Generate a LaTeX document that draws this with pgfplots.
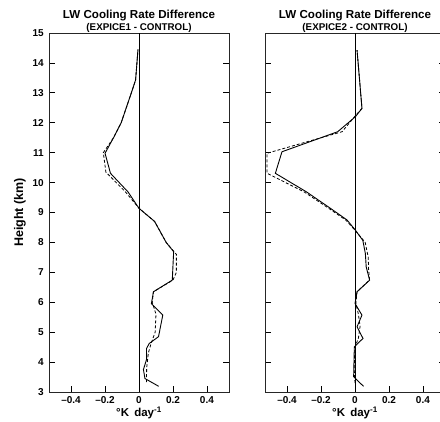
\documentclass[border=0pt]{standalone}
\usepackage{pgfplots}
\pgfplotsset{compat=1.18}
\usepackage{fontspec}
\setmainfont{Liberation Sans}
\pgfplotstableread{
x y
0.116 3.19
0.035 3.45
0.026 3.75
0.045 4.10
0.044 4.45
0.060 4.62
0.115 4.85
0.140 5.57
0.073 5.95
0.085 6.35
0.196 6.74
0.204 7.69
0.160 8.00
0.092 8.70
0.000 9.14
-0.065 9.69
-0.168 10.31
-0.200 10.98
-0.150 11.50
-0.105 12.00
-0.075 12.50
-0.045 13.00
-0.020 13.43
-0.006 14.45
}\leftsolid
\pgfplotstableread{
x y
0.044 3.33
0.045 3.80
0.055 4.30
0.070 4.60
0.095 5.00
0.100 5.60
0.078 6.00
0.085 6.35
0.200 6.74
0.220 7.00
0.220 7.60
0.160 8.00
0.092 8.70
0.000 9.14
-0.080 9.69
-0.195 10.35
-0.210 11.00
-0.150 11.50
-0.105 12.00
-0.075 12.50
-0.045 13.00
-0.020 13.43
-0.006 14.45
}\leftdashed
\pgfplotstableread{
x y
0.050 3.19
-0.008 3.51
-0.004 4.51
0.047 4.79
0.012 5.18
0.041 5.57
0.000 5.96
0.012 6.35
0.086 6.74
0.066 7.18
0.061 7.63
0.046 8.07
0.002 8.41
-0.047 8.75
-0.145 9.14
-0.286 9.69
-0.469 10.31
-0.430 11.03
-0.102 11.70
0.002 12.20
0.041 12.48
0.012 14.43
}\rightsolid
\pgfplotstableread{
x y
0.000 3.30
-0.005 3.80
0.000 4.50
0.020 4.80
0.030 5.20
0.020 5.60
0.005 5.96
0.012 6.35
0.086 6.74
0.080 7.10
0.078 7.50
0.060 8.00
0.000 8.41
-0.055 8.75
-0.155 9.14
-0.300 9.69
-0.518 10.31
-0.518 10.98
-0.076 11.70
0.000 12.22
0.041 12.48
0.012 14.43
}\rightdashed
\begin{document}
\begin{tikzpicture}[x=1pt,y=1pt]
\pgfplotsset{
  panel/.style={
    anchor=south west, scale only axis, width=180pt, height=359pt,
    xmin=-0.53, xmax=0.53, ymin=3, ymax=15,
    xtick={-0.4,-0.2,0,0.2,0.4}, xticklabels={–0.4,–0.2,0,0.2,0.4},
    ytick={3,4,...,15},
    xtick pos=left, ytick pos=both,
    tick align=inside, major tick length=6pt,
    tick style={black, line width=0.7pt},
    axis line style={black!85, line width=0.8pt},
    /pgf/number format/assume math mode=true,
    ticklabel style={font=\fontsize{10}{11}\selectfont\bfseries, inner sep=0pt},
    xticklabel style={yshift=-4.7pt},
    yticklabel style={xshift=-5pt},
    clip=false,
  },
  zero/.style={black, line width=0.6pt},
  sol/.style={black, line width=0.9pt},
  dsh/.style={black, line width=0.8pt, dash pattern=on 3pt off 2pt},
}
\newcommand{\ttl}[1]{%
  \node[anchor=base, inner sep=0pt, font=\fontsize{11.6}{12}\selectfont\bfseries] at ([yshift=14pt]rel axis cs:0.5,1) {LW Cooling Rate Difference};
  \node[anchor=base, inner sep=0pt, font=\fontsize{9.8}{10}\selectfont\bfseries] at ([yshift=2.5pt]rel axis cs:0.5,1) {(#1 - CONTROL)};
  \node[anchor=base, inner sep=0pt, font=\fontsize{11.5}{12}\selectfont\bfseries] at ([yshift=-25pt]rel axis cs:0.5,0) {°K\hspace{0.45em}day\textsuperscript{-1}};
}
\begin{axis}[panel, at={(49pt,30pt)}]
  \addplot[zero] coordinates {(0,3) (0,15)};
  \addplot[dsh] table {\leftdashed};
  \addplot[sol] table {\leftsolid};
  \ttl{EXPICE1}
  \node[rotate=90, font=\fontsize{12.5}{13}\selectfont\bfseries] at ([xshift=-29pt]rel axis cs:0,0.5) {Height (km)};
\end{axis}
\begin{axis}[panel, at={(265pt,30pt)}, yticklabels={}]
  \addplot[zero] coordinates {(0,3) (0,15)};
  \addplot[dsh] table {\rightdashed};
  \addplot[sol] table {\rightsolid};
  \ttl{EXPICE2}
\end{axis}
\pgfresetboundingbox
\useasboundingbox (0,0) rectangle (440,422);
\end{tikzpicture}
\end{document}
